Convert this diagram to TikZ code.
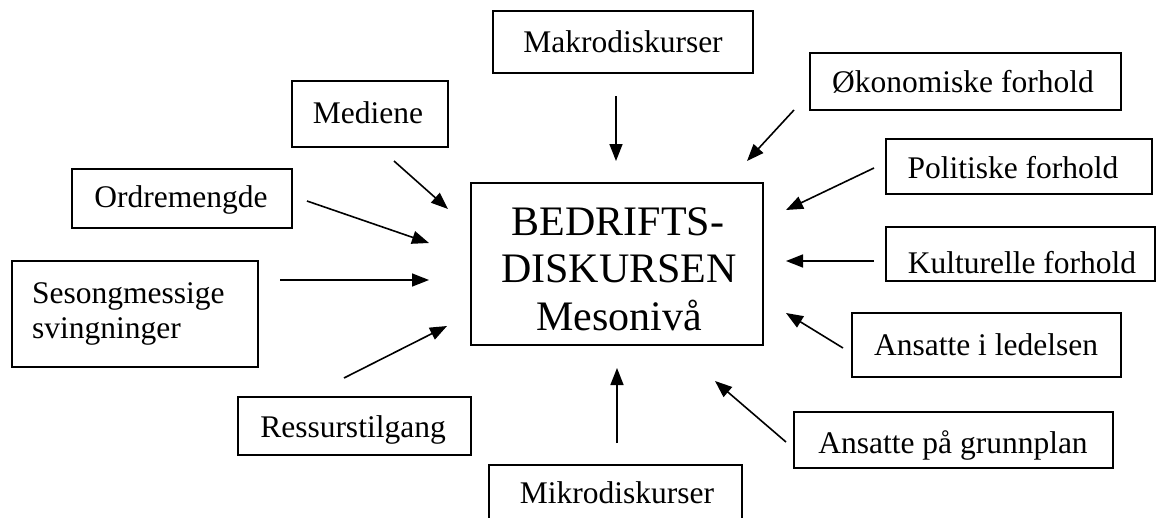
\documentclass[tikz,border=0pt]{standalone}
\usepackage{fontspec}
\setmainfont{Liberation Serif}
\usetikzlibrary{arrows.meta}
\tikzset{
  box/.style={draw=black, line width=1.8pt, fill=none, inner sep=0pt},
  lbl/.style={font=\fontsize{31.5}{35}\selectfont, inner sep=0pt, anchor=base},
  big/.style={font=\fontsize{42}{47}\selectfont, inner sep=0pt, anchor=base},
  arr/.style={draw=black, line width=1.6pt, -{Triangle[length=17pt,width=13pt]}}
}
\begin{document}
\begin{tikzpicture}[x=1pt, y=-1pt]
\useasboundingbox (0,0) rectangle (1156,517);
\clip (0,0) rectangle (1156,517);
\fill[white] (0,0) rectangle (1156,517);
% boxes
\node[box, minimum width=260pt, minimum height=62pt] (makro) at (623,42) {};
\node[box, minimum width=156pt, minimum height=66pt] (medi) at (370,114) {};
\node[box, minimum width=311pt, minimum height=57pt] (okon) at (965.5,81.5) {};
\node[box, minimum width=220pt, minimum height=59pt] (ordre) at (182,198.5) {};
\node[box, minimum width=266pt, minimum height=55pt] (pol) at (1019,166.5) {};
\node[box, minimum width=292pt, minimum height=162pt] (mid) at (617,264) {};
\node[box, minimum width=269pt, minimum height=54pt] (kult) at (1020.5,254) {};
\node[box, minimum width=246pt, minimum height=106pt] (seson) at (135,314) {};
\node[box, minimum width=269pt, minimum height=64pt] (led) at (986.5,345) {};
\node[box, minimum width=233pt, minimum height=58pt] (ress) at (354.5,426) {};
\node[box, minimum width=319pt, minimum height=56pt] (grunn) at (953.5,440) {};
\node[box, minimum width=253pt, minimum height=56pt] (mikro) at (615.5,493) {};
% texts
\node[lbl] (makrot) at (623,52) {Makrodiskurser};
\node[lbl] (medit) at (368,123) {Mediene};
\node[lbl] (okont) at (963,92) {Økonomiske forhold};
\node[lbl] (ordret) at (181,207) {Ordremengde};
\node[lbl] (polt) at (1013,178) {Politiske forhold};
\node[big] (midt1) at (618,235) {BEDRIFTS-};
\node[big] (midt2) at (619,282) {DISKURSEN};
\node[big] (midt3) at (619,330) {Mesonivå};
\node[lbl] (kultt) at (1022,273) {Kulturelle forhold};
\node[lbl, anchor=base west] (sesont1) at (32,303) {Sesongmessige};
\node[lbl, anchor=base west] (sesont2) at (32,338) {svingninger};
\node[lbl] (ledt) at (986,355) {Ansatte i ledelsen};
\node[lbl] (resst) at (353,437) {Ressurstilgang};
\node[lbl] (grunnt) at (953,453) {Ansatte på grunnplan};
\node[lbl] (mikrot) at (617,503) {Mikrodiskurser};
% arrow end points
\coordinate (a1s) at (616,96);  \coordinate (a1e) at (616,161);
\coordinate (a2s) at (794,110); \coordinate (a2e) at (747,161);
\coordinate (a3s) at (874,168); \coordinate (a3e) at (786,210);
\coordinate (a4s) at (874,261); \coordinate (a4e) at (786,261);
\coordinate (a5s) at (843,348); \coordinate (a5e) at (786,313);
\coordinate (a6s) at (786,442); \coordinate (a6e) at (715,381);
\coordinate (a7s) at (617,443); \coordinate (a7e) at (617,368);
\coordinate (a8s) at (344,378); \coordinate (a8e) at (447,326);
\coordinate (a9s) at (280,280); \coordinate (a9e) at (429,280);
\coordinate (a10s) at (307,201); \coordinate (a10e) at (429,243);
\coordinate (a11s) at (394,161); \coordinate (a11e) at (448,209);
% arrows
\draw[arr] (a1s) -- (a1e);
\draw[arr] (a2s) -- (a2e);
\draw[arr] (a3s) -- (a3e);
\draw[arr] (a4s) -- (a4e);
\draw[arr] (a5s) -- (a5e);
\draw[arr] (a6s) -- (a6e);
\draw[arr] (a7s) -- (a7e);
\draw[arr] (a8s) -- (a8e);
\draw[arr] (a9s) -- (a9e);
\draw[arr] (a10s) -- (a10e);
\draw[arr] (a11s) -- (a11e);
\end{tikzpicture}
\end{document}
